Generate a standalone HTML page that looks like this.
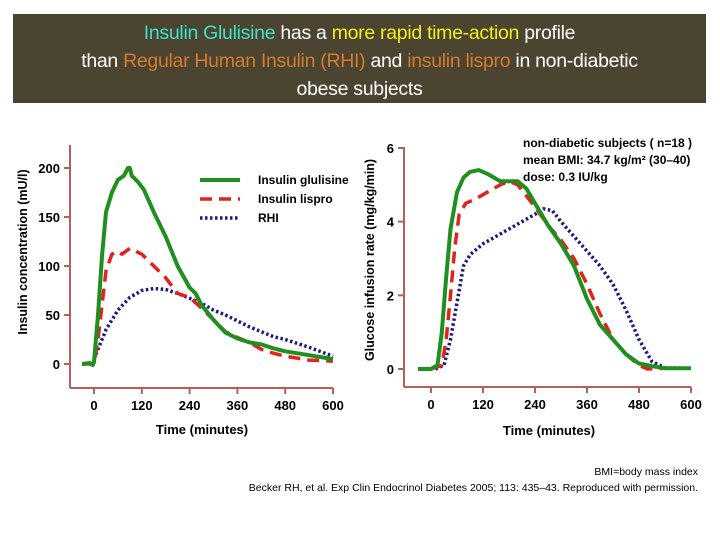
<!DOCTYPE html>
<html><head><meta charset="utf-8"><style>
body{margin:0;background:#fff;width:720px;height:540px;overflow:hidden;font-family:"Liberation Sans",sans-serif}
#title{position:absolute;left:13px;top:14px;width:693px;height:89px;background:#4b4431;color:#fff;text-align:center;font-size:19.5px;line-height:28px;padding-top:5px;box-sizing:border-box;letter-spacing:-0.3px}
.c{color:#3fe0c8}.y{color:#f2ee1e}.o{color:#d57a2e}
svg{position:absolute;left:0;top:0}
</style></head><body>
<div id="title"><span class="c">Insulin Glulisine</span> has a <span class="y">more rapid time-action</span> profile<br>than <span class="o">Regular Human Insulin (RHI)</span> and <span class="o">insulin lispro</span> in non-diabetic<br>obese subjects</div>
<svg id="s" width="720" height="540"></svg>
<script>
const ticksX=[0,120,240,360,480,600];
const leftTicksY=[0,50,100,150,200];
const rightTicksY=[0,2,4,6];
const gluT=[-30,-10,-3,0,10,20,30,45,60,75,85,90,95,110,125,150,180,210,240,255,270,300,330,360,390,420,450,480,540,600];
const gluV=[0,1,-1,2,50,110,155,175,188,192,200,200,192,186,178,155,130,100,78,72,60,45,32,26,22,20,16,13,9,5];
const lisT=[-30,0,10,20,30,45,60,70,90,120,150,180,210,240,270,300,330,360,390,420,450,480,540,600];
const lisV=[0,0,25,60,95,112,115,112,118,112,100,88,72,68,57,45,33,27,22,15,11,8,4,3];
const rhiT=[0,15,30,60,90,120,150,180,210,240,270,300,330,360,390,420,450,480,540,600];
const rhiV=[5,20,35,55,68,75,77,76,72,67,62,55,50,44,38,33,28,25,17,8];
const gGluT=[-30,0,15,25,35,45,60,75,90,110,130,160,180,200,220,240,270,300,330,360,390,420,450,480,510,540,600];
const gGluV=[0,0,0.1,1,2.5,3.8,4.8,5.2,5.35,5.4,5.3,5.1,5.1,5.1,4.9,4.5,3.9,3.4,2.8,1.9,1.2,0.8,0.4,0.15,0.08,0.02,0.02];
const gLisT=[0,25,35,45,55,65,80,100,130,160,180,200,240,270,300,330,360,390,420,450,480,500,540,600];
const gLisV=[0,0.1,0.8,2,3.3,4.2,4.5,4.6,4.8,5.0,5.1,5.0,4.4,3.9,3.5,3.0,2.3,1.5,0.8,0.4,0.1,0,0.02,0.02];
const gRhiT=[10,30,45,60,75,90,120,150,180,210,240,260,280,300,330,360,390,420,450,480,510,540,600];
const gRhiV=[0,0.1,0.8,1.8,2.8,3.1,3.4,3.6,3.8,4.0,4.2,4.35,4.3,4.0,3.6,3.2,2.8,2.3,1.6,0.8,0.2,0.03,0.02];

const NS="http://www.w3.org/2000/svg",s=document.getElementById('s');
function mk(tag,at,txt){const e=document.createElementNS(NS,tag);for(const k in at)e.setAttribute(k,at[k]);if(txt!=null)e.textContent=txt;s.appendChild(e);return e;}
const AX='#b5605a';
function chart(o){
 const X=t=>o.x0+(t/600)*(o.x600-o.x0), Y=v=>o.y0+(v/o.ymax)*(o.ytop-o.y0);
 let e=mk('line',{x1:o.ax,y1:o.axTop,x2:o.ax,y2:o.axBot,stroke:AX,'stroke-width':2});
 
 e=mk('line',{x1:o.ax,y1:o.axBot,x2:o.x600,y2:o.axBot,stroke:AX,'stroke-width':2});
 
 ticksX.forEach(t=>{mk('line',{x1:X(t),y1:o.axBot,x2:X(t),y2:o.axBot+6,stroke:AX,'stroke-width':2});
  e=mk('text',{x:X(t),y:o.axBot+22,'text-anchor':'middle','font-size':13,'font-weight':'bold'},t);
  });
 o.ty.forEach(v=>{mk('line',{x1:o.ax-6,y1:Y(v),x2:o.ax,y2:Y(v),stroke:AX,'stroke-width':2});
  e=mk('text',{x:o.ax-10,y:Y(v)+5,'text-anchor':'end','font-size':13,'font-weight':'bold'},v);
  });
 o.series.forEach(sr=>{const d=sr.t.map((t,i)=>(i?'L':'M')+X(t).toFixed(1)+','+Y(sr.v[i]).toFixed(1)).join('');
  e=mk('path',{d:d,fill:'none',stroke:sr.c,'stroke-width':sr.w,'stroke-dasharray':sr.da||'none','stroke-linejoin':'round'});
  });
}
const ser=(a,b,c,d,e,f)=>[{n:'rhi',t:e,v:f,c:'#1a1a80',w:3.5,da:'2.5 2.5'},{n:'lispro',t:c,v:d,c:'#e0231d',w:3.5,da:'12 7'},{n:'glulisine',t:a,v:b,c:'#1f9020',w:4}];
chart({p:'left',x0:94,x600:333,ax:70,axTop:145,axBot:388,y0:364,ytop:168,ymax:200,ty:leftTicksY,series:ser(gluT,gluV,lisT,lisV,rhiT,rhiV)});
chart({p:'right',x0:431,x600:691,ax:404,axTop:147,axBot:387,y0:369,ytop:148,ymax:6,ty:rightTicksY,series:ser(gGluT,gGluV,gLisT,gLisV,gRhiT,gRhiV)});
let e;
e=mk('text',{x:202,y:434,'text-anchor':'middle','font-size':13,'font-weight':'bold'},'Time (minutes)');
e=mk('text',{x:549,y:435,'text-anchor':'middle','font-size':13,'font-weight':'bold'},'Time (minutes)');
e=mk('text',{x:0,y:0,transform:'translate(27,252) rotate(-90)','text-anchor':'middle','font-size':12.5,'font-weight':'bold'},'Insulin concentration (mU/l)');
e=mk('text',{x:0,y:0,transform:'translate(374,260) rotate(-90)','text-anchor':'middle','font-size':12.5,'font-weight':'bold'},'Glucose infusion rate (mg/kg/min)');
const leg=[['Insulin glulisine','#1f9020','none',4],['Insulin lispro','#e0231d','12 7',3.5],['RHI','#1a1a80','2.5 2.5',3.5]];
leg.forEach((l,i)=>{const y=180+i*19;
 mk('line',{x1:200,y1:y,x2:240,y2:y,stroke:l[1],'stroke-width':l[3],'stroke-dasharray':l[2]});
 e=mk('text',{x:258,y:y+4,'font-size':12,'font-weight':'bold'},l[0]);});
['non-diabetic subjects ( n=18 )','mean BMI: 34.7 kg/m² (30–40)','dose: 0.3 IU/kg'].forEach((t,i)=>{e=mk('text',{x:523,y:147+i*17,'font-size':12,'font-weight':'bold'},t);});
e=mk('text',{x:698,y:475,'text-anchor':'end','font-size':10.5},'BMI=body mass index');
e=mk('text',{x:698,y:491,'text-anchor':'end','font-size':10.5},'Becker RH, et al. Exp Clin Endocrinol Diabetes 2005; 113: 435–43. Reproduced with permission.');
</script>
</body></html>
